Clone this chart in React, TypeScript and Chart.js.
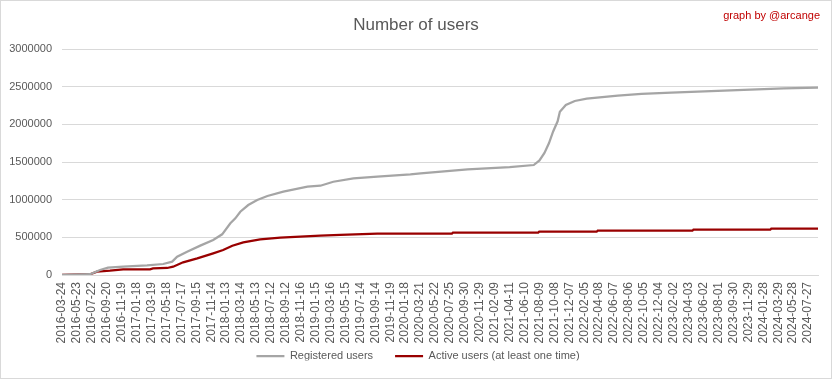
import { useEffect, useRef } from "react";
import { Chart, registerables } from "chart.js";

Chart.register(...registerables);

// Category tick labels (one every 60 data points on the x axis)
const xTickLabels = [
  "2016-03-24", "2016-05-23", "2016-07-22", "2016-09-20", "2016-11-19",
  "2017-01-18", "2017-03-19", "2017-05-18", "2017-07-17", "2017-09-15", "2017-11-14",
  "2018-01-13", "2018-03-14", "2018-05-13", "2018-07-12", "2018-09-12", "2018-11-16",
  "2019-01-15", "2019-03-16", "2019-05-15", "2019-07-14", "2019-09-14", "2019-11-19",
  "2020-01-18", "2020-03-21", "2020-05-22", "2020-07-25", "2020-09-30", "2020-11-29",
  "2021-02-09", "2021-04-11", "2021-06-10", "2021-08-09", "2021-10-08", "2021-12-07",
  "2022-02-05", "2022-04-08", "2022-06-07", "2022-08-06", "2022-10-05", "2022-12-04",
  "2023-02-02", "2023-04-03", "2023-06-02", "2023-08-01", "2023-09-30", "2023-11-29",
  "2024-01-28", "2024-03-29", "2024-05-28", "2024-07-27",
];
const LABEL_STEP = 60;
const LAST_INDEX = 3040;

// Registered users: data point index and value
const registeredIdx = [
  0, 113, 153, 185, 246, 342, 407, 443, 463, 503, 556, 608, 644, 677, 697, 717,
  749, 785, 826, 890, 987, 1039, 1091, 1172, 1268, 1401, 1442, 1631, 1800, 1897,
  1920, 1940, 1958, 1975, 1993, 2002, 2026, 2062, 2110, 2235, 2330, 2450, 2557,
  2742, 2903, 3040,
];
const registeredUsers = [
  0, 10000, 66000, 97000, 110000, 128000, 146000, 177000, 243000, 310000, 390000,
  465000, 540000, 686000, 752000, 840000, 929000, 995000, 1049000, 1106000, 1172000,
  1185000, 1238000, 1283000, 1305000, 1336000, 1350000, 1403000, 1432000, 1460000,
  1520000, 1620000, 1748000, 1905000, 2040000, 2168000, 2257000, 2310000, 2340000,
  2380000, 2403000, 2420000, 2433000, 2456000, 2476000, 2486000,
];

// Active users (at least one time): data point index and value
const activeIdx = [
  0, 113, 141, 193, 246, 354, 366, 423, 447, 487, 544, 608, 648, 685, 729, 797,
  878, 958, 1039, 1119, 1268, 1568, 1572, 1915, 1919, 2150, 2154, 2535, 2539,
  2848, 2852, 3040,
];
const activeUsers = [
  0, 10000, 44000, 57000, 75000, 75000, 88000, 93000, 110000, 168000, 221000,
  288000, 332000, 389000, 434000, 473000, 495000, 509000, 522000, 531000, 550000,
  550000, 562000, 562000, 575000, 575000, 588000, 588000, 601000, 601000, 615000,
  615000,
];

const FONT = "'Liberation Sans', Arial, sans-serif";
const TEXT = "#595959";

const signature = {
  id: "signature",
  afterDraw(chart: any) {
    const ctx = chart.ctx;
    ctx.save();
    ctx.font = `11px ${FONT}`;
    ctx.fillStyle = "#c00000";
    ctx.textAlign = "right";
    ctx.textBaseline = "middle";
    ctx.fillText("graph by @arcange", 820, 16);
    ctx.restore();
  },
};

// Pull the legend up so that it sits just under the rotated date labels,
// and centre title and legend on the whole frame
const boxNudge = {
  id: "boxNudge",
  afterLayout(chart: any) {
    const l = chart.legend;
    if (l) {
      l.top -= 18.5;
      l.bottom -= 18.5;
      l.left += 7;
      l.right += 7;
    }
    const t = chart.titleBlock;
    if (t) {
      t.left += 5;
      t.right += 5;
    }
  },
};

export default function App() {
  const ref = useRef<HTMLCanvasElement | null>(null);

  useEffect(() => {
    if (!ref.current) return;
    const chart = new Chart(ref.current, {
      type: "line",
      data: {
        datasets: [
          {
            label: "Registered users",
            data: registeredIdx.map((x, i) => ({ x, y: registeredUsers[i] })),
            borderColor: "#a5a5a5",
            backgroundColor: "#a5a5a5",
            borderWidth: 2.25,
            pointRadius: 0,
            tension: 0,
          },
          {
            label: "Active users (at least one time)",
            data: activeIdx.map((x, i) => ({ x, y: activeUsers[i] })),
            borderColor: "#990000",
            backgroundColor: "#990000",
            borderWidth: 2.25,
            pointRadius: 0,
            tension: 0,
          },
        ],
      },
      options: {
        animation: false,
        responsive: false,
        layout: { padding: { left: 4, right: 14, top: 0, bottom: 0 } },
        plugins: {
          title: {
            display: true,
            text: "Number of users",
            color: TEXT,
            font: { family: FONT, size: 17, weight: "normal" },
            padding: { top: 15, bottom: 13.6 },
          },
          legend: {
            position: "bottom",
            maxHeight: 32,
            labels: {
              color: TEXT,
              font: { family: FONT, size: 11 },
              boxWidth: 28,
              boxHeight: 0,
              padding: 22,
            },
          },
          tooltip: { enabled: false },
        },
        scales: {
          x: {
            type: "linear",
            min: 0,
            max: LAST_INDEX,
            afterFit: (scale: any) => {
              scale.height = 72;
            },
            grid: { display: false, drawTicks: false },
            border: { display: true, color: "#d9d9d9" },
            ticks: {
              stepSize: LABEL_STEP,
              includeBounds: false,
              autoSkip: false,
              minRotation: 90,
              maxRotation: 90,
              padding: 7,
              color: TEXT,
              font: { family: FONT, size: 12 },
              callback: (v: any) => {
                const i = Math.round(Number(v) / LABEL_STEP);
                return Number(v) % LABEL_STEP === 0 && xTickLabels[i] ? xTickLabels[i] : "";
              },
            },
          },
          y: {
            min: 0,
            max: 3000000,
            afterFit: (scale: any) => {
              scale.width = 58;
            },
            grid: { color: "#d9d9d9", drawTicks: false },
            border: { display: false },
            ticks: {
              stepSize: 500000,
              padding: 10,
              color: TEXT,
              font: { family: FONT, size: 11 },
              callback: (v: any) => String(v),
            },
          },
        },
      },
      plugins: [signature, boxNudge],
    } as any);
    return () => chart.destroy();
  }, []);

  return (
    <div
      style={{
        position: "fixed",
        left: 0,
        top: 0,
        width: 832,
        height: 379,
        background: "#fff",
      }}
    >
      <canvas ref={ref} width={832} height={379} style={{ display: "block" }} />
      <div
        style={{
          position: "absolute",
          inset: 0,
          border: "1px solid #d9d9d9",
          boxSizing: "border-box",
          pointerEvents: "none",
        }}
      />
    </div>
  );
}
